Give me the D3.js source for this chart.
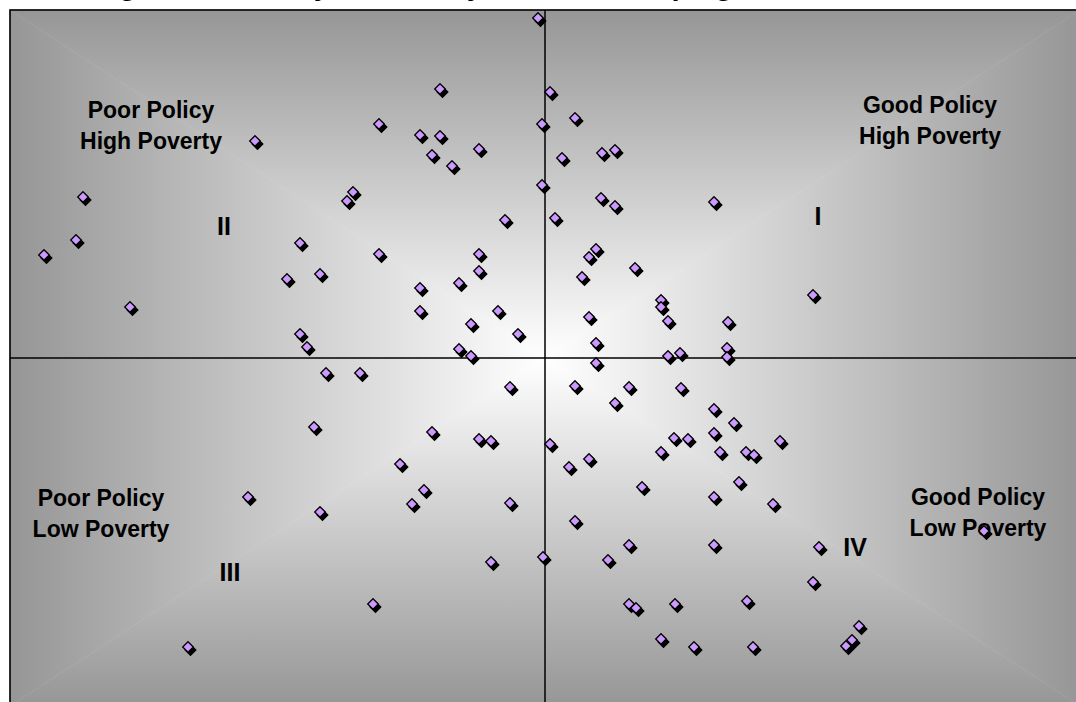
<!DOCTYPE html>
<html>
<head>
<meta charset="utf-8">
<script src="https://cdn.jsdelivr.net/npm/d3@7/dist/d3.min.js"></script>
<style>
  html, body { margin: 0; padding: 0; background: #ffffff; overflow: hidden; }
  svg { display: block; font-family: "Liberation Sans", Arial, Helvetica, sans-serif; }
</style>
</head>
<body>
<svg id="chart" width="1076" height="702"></svg>
<script>
// ---------------- DATA ----------------
const chartTitle = "Figure 1: Poverty and Policy in the Developing World";

// Policy index (x) and poverty index (y), one entry per country
const policy = [
  -0.07, -1.05, -1.66, -1.25, -1.05, -0.66, -1.13, -0.93, -2.90, -1.92,
  -1.98, -4.62, -0.40, -4.69, -5.01, -2.45, -1.66, -0.66, -0.66, -2.58,
  -2.25, -0.86, -1.25, -4.15, -1.25, -0.47, -0.74, -0.27, -2.45, -2.38,
  -0.86, -0.74,
  0.05, 0.30, -0.03, 0.17, 0.57, 0.70, -0.03, 0.56, 0.70, 1.69,
  0.10, 0.51, 0.44, 0.90, 0.37, 2.68, 1.16, 1.16, 1.23, 1.83,
  0.44, 0.51, 1.23, 1.35, 1.82, 1.82,
  0.51, 0.30, 0.84, 1.36, 0.70, 1.69, 1.89, 1.69, 1.29, 1.43,
  1.16, 1.75, 2.01, 2.09, 2.35, 0.05, 0.44, 0.24, 0.97, 1.69,
  1.94, 2.28, 0.30, 0.84, 1.69, -0.02, 0.63, 2.74, 4.39, 2.68,
  0.84, 0.91, 1.30, 2.02, 1.16, 1.49, 2.08, 3.14, 3.07, 3.01,
  -2.19, -1.85, -0.35, -2.31, -1.13, -0.66, -0.54, -1.45, -1.21, -1.33,
  -0.35, -2.97, -2.25, -0.54, -1.72, -3.57
];
const poverty = [
  3.40, 2.69, 2.34, 2.23, 2.22, 2.09, 2.03, 1.92, 2.17, 1.66,
  1.57, 1.61, 1.38, 1.18, 1.03, 1.15, 1.04, 1.04, 0.87, 0.79,
  0.84, 0.75, 0.70, 0.51, 0.47, 0.47, 0.34, 0.24, 0.24, 0.11,
  0.09, 0.02,
  2.66, 2.40, 2.34, 2.00, 2.05, 2.08, 1.73, 1.60, 1.52, 1.56,
  1.40, 1.09, 1.01, 0.90, 0.81, 0.63, 0.58, 0.51, 0.37, 0.36,
  0.41, 0.15, 0.02, 0.05, 0.10, 0.01,
  -0.05, -0.28, -0.29, -0.30, -0.45, -0.51, -0.65, -0.75, -0.80, -0.81,
  -0.94, -0.94, -0.94, -0.97, -0.83, -0.86, -1.01, -1.09, -1.29, -1.39,
  -1.24, -1.46, -1.63, -1.87, -1.87, -1.99, -2.02, -1.89, -1.73, -2.24,
  -2.46, -2.50, -2.46, -2.43, -2.81, -2.89, -2.89, -2.68, -2.82, -2.88,
  -0.15, -0.15, -0.29, -0.69, -0.74, -0.81, -0.83, -1.06, -1.32, -1.46,
  -1.45, -1.39, -1.54, -2.04, -2.46, -2.89
];

const quadrantNumerals = ["I", "II", "III", "IV"];
const quadrantTitles = [
  ["Good Policy", "High Poverty"],
  ["Poor Policy", "High Poverty"],
  ["Poor Policy", "Low Poverty"],
  ["Good Policy", "Low Poverty"]
];

// ---------------- LAYOUT ----------------
const plot = { left: 10, top: 10, right: 1080, bottom: 706 };
const x = d3.scaleLinear().domain([-5.35, 5.35]).range([plot.left, plot.right]);
const y = d3.scaleLinear().domain([-3.48, 3.48]).range([plot.bottom, plot.top]);

// label anchors in data units (policy, poverty)
const titleAnchors = [[3.85, 2.53], [-3.94, 2.48], [-4.44, -1.40], [4.33, -1.39]];
const numeralAnchors = [[2.73, 1.42], [-3.21, 1.32], [-3.15, -2.14], [3.10, -1.89]];

const svg = d3.select("#chart");
const defs = svg.append("defs");

// ---- rectangular "from centre" gradient background ----
const cx = x(0), cy = y(0);
const edgeGray = "#969696";
function grad(id, x1, y1, x2, y2) {
  const g = defs.append("linearGradient").attr("id", id)
    .attr("gradientUnits", "userSpaceOnUse")
    .attr("x1", x1).attr("y1", y1).attr("x2", x2).attr("y2", y2);
  g.append("stop").attr("offset", 0).attr("stop-color", "#ffffff");
  g.append("stop").attr("offset", 1).attr("stop-color", edgeGray);
}
grad("gTop", cx, cy, cx, plot.top);
grad("gBottom", cx, cy, cx, plot.bottom);
grad("gLeft", cx, cy, plot.left, cy);
grad("gRight", cx, cy, plot.right, cy);

const bg = svg.append("g");
const tri = (pts) => "M" + pts.map(p => p.join(",")).join("L") + "Z";
bg.append("path").attr("d", tri([[plot.left, plot.top], [plot.right, plot.top], [cx, cy]])).attr("fill", "url(#gTop)").attr("stroke", "url(#gTop)").attr("stroke-width", 0.6);
bg.append("path").attr("d", tri([[plot.left, plot.bottom], [plot.right, plot.bottom], [cx, cy]])).attr("fill", "url(#gBottom)").attr("stroke", "url(#gBottom)").attr("stroke-width", 0.6);
bg.append("path").attr("d", tri([[plot.left, plot.top], [plot.left, plot.bottom], [cx, cy]])).attr("fill", "url(#gLeft)").attr("stroke", "url(#gLeft)").attr("stroke-width", 0.6);
bg.append("path").attr("d", tri([[plot.right, plot.top], [plot.right, plot.bottom], [cx, cy]])).attr("fill", "url(#gRight)").attr("stroke", "url(#gRight)").attr("stroke-width", 0.6);

// frame
svg.append("rect")
  .attr("x", plot.left).attr("y", plot.top)
  .attr("width", plot.right - plot.left).attr("height", plot.bottom - plot.top)
  .attr("fill", "none").attr("stroke", "#000").attr("stroke-width", 1.6);

// axis lines through origin
svg.append("line").attr("x1", plot.left).attr("x2", plot.right)
  .attr("y1", y(0)).attr("y2", y(0)).attr("stroke", "#000").attr("stroke-width", 1.5);
svg.append("line").attr("x1", x(0)).attr("x2", x(0))
  .attr("y1", plot.top).attr("y2", plot.bottom).attr("stroke", "#000").attr("stroke-width", 1.5);

// title (mostly above the window, as in the reference)
svg.append("text")
  .attr("x", 93).attr("y", -5.5)
  .attr("font-size", 29).attr("font-weight", "bold").attr("fill", "#000")
  .text(chartTitle);

// quadrant titles
const tg = svg.append("g").attr("font-weight", "bold").attr("fill", "#000").attr("text-anchor", "middle");
quadrantTitles.forEach((lines, i) => {
  const [ax, ay] = titleAnchors[i];
  lines.forEach((t, j) => {
    tg.append("text")
      .attr("x", x(ax)).attr("y", y(ay) + j * 31)
      .attr("dominant-baseline", "central")
      .attr("font-size", 23)
      .text(t);
  });
});
quadrantNumerals.forEach((t, i) => {
  const [ax, ay] = numeralAnchors[i];
  tg.append("text")
    .attr("x", x(ax)).attr("y", y(ay))
    .attr("dominant-baseline", "central")
    .attr("font-size", 25)
    .text(t);
});

// markers
const pts = policy.map((p, i) => ({ p, v: poverty[i] }));
const r = 5.3;
const diamond = `M0,${-r}L${r},0L0,${r}L${-r},0Z`;
const mk = svg.append("g");
mk.selectAll("path.shadow").data(pts).join("path")
  .attr("class", "shadow")
  .attr("d", diamond)
  .attr("transform", d => `translate(${x(d.p) + 2.5},${y(d.v) + 3})`)
  .attr("fill", "#000").attr("stroke", "#000").attr("stroke-width", 1.3);
mk.selectAll("path.dot").data(pts).join("path")
  .attr("class", "dot")
  .attr("d", diamond)
  .attr("transform", d => `translate(${x(d.p)},${y(d.v)})`)
  .attr("fill", "#cc99ff").attr("stroke", "#000").attr("stroke-width", 1.3);
</script>
</body>
</html>
